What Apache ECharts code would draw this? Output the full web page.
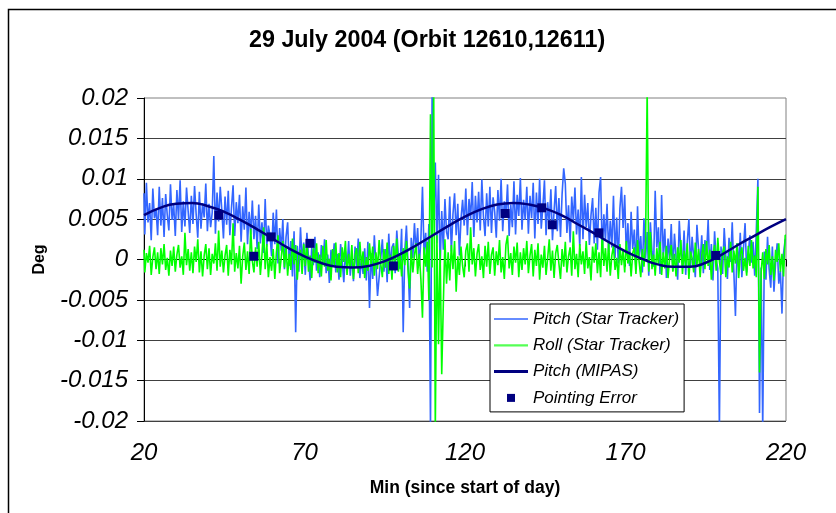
<!DOCTYPE html>
<html>
<head>
<meta charset="utf-8">
<script src="https://cdn.jsdelivr.net/npm/echarts@6/dist/echarts.min.js"></script>
<style>
  html, body { margin: 0; padding: 0; background: #fff; }
  #chart { width: 836px; height: 513px; }
</style>
</head>
<body>
<div id="chart"></div>
<script>
const xTicks = [20, 70, 120, 170, 220]
const starStart = 20   // min, first star tracker sample
const starStep = 0.5   // min between star tracker samples
const mipasStart = 20
const mipasStep = 5

// Pitch (Star Tracker), one row = 5 min
const pitchStarMdeg = [
  8.2, 3.1, 9.5, 4.6, 7.0, 2.4, 8.8, 5.1, 6.3, 3.0,
  9.0, 4.2, 7.6, 2.8, 8.1, 5.5, 3.6, 9.3, 4.9, 6.8,
  2.9, 8.6, 5.0, 9.8, 3.4, 7.2, 4.1, 8.9, 6.0, 3.3,
  7.9, 4.4, 9.1, 5.6, 2.7, 8.4, 3.8, 7.0, 5.2, 9.4,
  3.5, 6.9, 4.0, 5.8, 12.8, 3.2, 8.3, 4.7, 9.0, 6.1,
  2.6, 7.8, 4.3, 8.5, 3.0, 6.4, 9.2, 2.9, 7.1, 4.5,
  8.0, 2.2, 6.6, 3.7, 8.9, 1.9, 5.9, 3.1, 7.3, 2.5,
  5.4, 1.3, 6.8, 2.0, 4.6, 0.8, 7.5, 1.6, 4.2, 3.0,
  0.4, 5.8, 1.9, 6.2, -0.5, 3.9, 1.1, 5.0, -1.2, 2.8,
  4.6, -0.8, 2.3, -2.1, 3.5, -9.0, 1.7, -1.5, 4.0, -0.3,
  2.1, -1.9, 3.3, 0.2, -2.6, 1.5, -0.7, 2.8, -1.4, 0.9,
  -2.2, 1.8, -0.4, 2.5, -1.7, 0.6, -2.9, 1.2, -0.9, 2.0,
  -1.6, 0.7, -2.5, 1.9, -0.2, -2.8, 1.0, -1.3, 2.3, -2.0,
  0.5, -2.7, 1.6, -1.0, 2.6, -2.3, 0.3, -1.8, 1.4, -2.6,
  2.2, -6.0, 0.8, -2.4, 3.0, -0.6, -4.5, -2.2, 0.1, 2.5,
  -1.5, 1.3, -2.8, 3.2, -0.9, 1.5, 2.0, -1.7, 3.6, 0.4,
  -1.2, 3.8, -9.0, 1.1, 4.2, -0.5, -6.0, 2.7, 0.2, 4.5,
  1.0, 3.9, -0.8, 2.4, 9.0, 0.6, 3.3, -1.5, 4.4, -21,
  21, 5.0, 12.0, 2.0, 10.5, -1.0, 6.0, 1.2, 7.5, 3.4,
  2.5, 7.8, 1.0, 5.6, 8.2, 3.0, 6.9, 0.5, 5.0, 7.4,
  4.2, 8.8, 3.0, 7.5, 5.0, 9.6, 2.8, 7.9, 4.6, 8.4,
  3.6, 9.9, 5.3, 2.9, 8.2, 4.1, 9.0, 3.3, 7.7, 5.9,
  2.7, 8.6, 4.8, 10.0, 3.5, 7.2, 5.5, 9.3, 2.9, 6.8,
  4.0, 9.7, 3.1, 8.0, 5.4, 10.1, 3.7, 7.4, 4.9, 9.0,
  3.2, 7.9, 5.1, 9.5, 2.6, 8.3, 4.4, 10.0, 3.8, 6.5,
  9.8, 3.0, 7.1, 4.5, 8.7, 2.4, 6.0, 9.1, 3.5, 7.6,
  2.8, 8.1, 11.3, 9.4, 3.3, 6.7, 2.1, 7.8, 4.7, 8.9,
  3.1, 6.2, 1.6, 10.2, 2.5, 8.0, 4.0, 7.0, 1.8, 5.5,
  7.6, 2.0, 6.4, 1.2, 8.3, 10.2, 0.8, 5.6, 2.4, 6.9,
  0.9, 4.8, 1.5, 7.9, 0.2, 5.2, -0.5, 6.3, 9.0, 3.9,
  8.0, 0.6, 4.5, -0.8, 5.9, 1.3, 3.7, -1.2, 6.6, 0.4,
  2.9, -1.6, 5.1, 0.1, 3.4, -2.0, 4.6, 1.0, -0.9, 8.5,
  1.5, 4.0, -1.8, 8.0, 0.5, 3.8, -2.3, 2.6, 0.0, 4.4,
  -1.4, 3.2, 0.3, -2.5, 4.8, 1.1, -0.7, 3.6, -1.9, 2.2,
  5.0, -1.0, 2.8, 0.2, -2.2, 4.3, 1.4, -0.6, 3.0, -1.7,
  2.4, 0.7, 4.9, -1.3, 1.9, -2.6, 3.5, 0.0, -1.1, -21,
  1.6, -1.8, 3.9, 0.4, -2.4, 2.7, -0.3, 4.6, -1.5, -7.0,
  2.0, -0.9, 3.3, -2.2, 1.4, 4.5, -1.6, 0.8, 3.0, -0.4,
  2.2, -2.0, 3.6, 10.0, -19, -1.0, -21, 1.0, -2.5, 2.8,
  -1.2, -3.5, 1.6, -4.0, -0.5, 2.0, -3.0, -1.4, -6.7, 0.8,
  2.5
]

// Roll (Star Tracker), one row = 5 min
const rollStarMdeg = [
  1.2, -1.6, 0.8, -0.4, 1.7, -1.9, 0.3, 1.5, -1.2, 0.9,
  -1.8, 1.4, -0.6, 1.9, -1.3, 0.2, -2.0, 1.1, -0.8, 1.6,
  -1.5, 0.6, 1.8, -1.0, 0.4, -1.9, 3.3, -0.7, 1.3, -1.4,
  0.9, -1.7, 1.6, -0.3, 2.5, -1.6, 1.0, -2.1, 0.5, 1.9,
  -1.2, 1.4, -1.9, 0.7, -0.5, 2.0, -1.4, 3.6, -0.9, 1.1,
  -1.6, 0.5, 1.8, -2.0, 1.2, -0.6, 4.5, -1.5, 0.8, -1.1,
  1.7, -3.0, 0.4, 2.1, -1.3, 1.0, -1.8, 3.8, -0.2, -1.6,
  1.5, -0.9, 2.2, -1.9, 0.6, 4.0, -1.2, 1.9, -2.2, 0.3,
  -1.4, 1.3, -2.4, 0.9, 3.0, -1.7, 0.2, 2.3, -1.0, 1.6,
  -2.0, 0.7, -1.3, 2.6, -0.6, 1.8, -2.5, 0.4, 1.2, -1.8,
  1.9, -0.8, 2.2, -1.5, 0.5, -2.3, 1.4, -0.4, 2.0, -1.7,
  0.6, -2.1, 1.7, -0.9, 2.4, -1.4, 0.1, -2.6, 1.3, -0.7,
  2.1, -1.6, 0.8, -2.2, 1.5, -0.3, 2.3, -1.9, 0.7, -1.1,
  1.8, -2.4, 0.5, 1.4, -1.7, 2.2, -0.8, 1.0, -2.3, 0.3,
  -1.4, 2.0, -0.6, 1.6, -2.0, 0.9, -1.2, 2.4, -0.5, -2.2,
  1.3, -1.0, 2.1, -1.8, 0.6, -2.5, 1.7, -0.4, 2.6, -1.5,
  0.8, -2.1, 1.4, -0.7, 2.3, -1.3, -3.6, 1.2, -1.6, 0.5,
  2.0, -1.8, 0.7, -2.4, -7.2, 1.5, -0.9, 2.2, -5.0, 18.0,
  -1.0, 21, -21, 3.0, -10.5, 1.2, -14.2, -5.5, 2.5, -3.0,
  0.9, -2.6, 1.8, -1.2, 2.3, -4.0, 0.4, -1.9, 1.6, -0.8,
  -2.2, 1.1, 2.0, -1.5, 4.0, -0.6, 1.4, -2.1, 0.7, 1.9,
  -1.3, 0.4, -2.3, 1.7, -0.9, 2.2, -1.8, 0.6, 1.5, -2.0,
  1.0, -0.7, 2.4, -1.6, 0.3, -2.4, 1.8, 3.0, -1.1, 0.8,
  -1.9, 1.6, -0.4, 2.1, -2.2, 0.9, -1.3, 1.4, -0.6, 2.3,
  -1.7, 0.5, 1.9, -2.1, 1.2, -0.8, 2.0, -2.5, 0.6, -1.0,
  1.7, -1.9, 0.2, 2.5, -1.4, 1.1, -2.3, 0.8, 1.8, -0.5,
  -2.4, 1.3, -0.9, 2.2, -1.6, 0.4, 1.5, -2.0, 3.5, -1.2,
  0.7, -2.2, 1.9, -0.6, 1.0, -1.8, 2.3, -1.1, 0.3, -2.6,
  1.6, -0.4, 2.0, -1.7, 0.9, -2.2, 3.2, -0.8, 1.4, -1.5,
  2.1, -2.0, 0.5, 1.7, -1.3, 0.2, -2.4, 1.9, -0.7, 1.2,
  -1.6, 2.3, -0.5, 1.0, -2.1, 0.8, 1.5, -1.8, 2.4, -0.3,
  -2.2, 1.3, -0.9, 2.0, 21, -1.5, 3.4, -1.2, 0.6, -2.0,
  1.4, -0.6, 2.2, -1.9, 0.9, -1.1, 1.7, -2.3, 0.3, 1.8,
  -1.5, 0.7, -2.1, 1.5, -0.4, 2.4, -1.8, 1.1, -0.9, 2.0,
  -2.4, 1.0, 0.2, -1.6, 2.1, -0.7, 1.3, -2.2, 0.5, 1.9,
  -1.2, 2.3, -0.8, 1.2, -2.5, 0.6, 1.8, -1.4, 2.7, -0.2,
  -1.9, 0.9, 1.6, -2.2, 0.4, -1.0, 2.2, -1.6, 1.1, -0.5,
  2.0, -2.3, 0.6, 1.5, -1.4, 0.2, -2.0, 1.7, -0.8, 2.4,
  -1.1, 0.5, -2.2, 9.0, -14.0, -1.6, 0.9, -2.4, 1.3, -0.6,
  1.8, -1.9, 0.4, -2.6, 1.2, -0.3, 2.0, -1.5, 0.7, -2.1,
  3.0
]

// Pitch (MIPAS), every 5 min from 20 to 220
const pitchMipasMdeg = [
  5.5, 6.4, 6.9, 7.0, 6.6, 5.9, 4.9, 3.8, 2.6, 1.4,
  0.4, -0.4, -0.9, -1.0, -0.8, -0.2, 0.7, 1.8, 3.0, 4.2,
  5.3, 6.2, 6.8, 7.0, 6.8, 6.3, 5.5, 4.4, 3.3, 2.1,
  1.0, 0.1, -0.6, -0.9, -0.9, -0.4, 0.6, 1.8, 2.9, 4.0,
  5.0
]

// Pointing Error
const errorMin = [43.3, 54.2, 59.6, 71.7, 97.7, 132.5, 143.9, 147.2, 161.7, 198.1]
const errorMdeg = [5.5, 0.4, 2.8, 2.0, -0.8, 5.7, 6.4, 4.3, 3.3, 0.5]

const toDeg = (v) => v / 1000
const pitchStar = pitchStarMdeg.map((v, i) => [starStart + i * starStep, toDeg(v)])
const rollStar = rollStarMdeg.map((v, i) => [starStart + i * starStep, toDeg(v)])
const pitchMipas = pitchMipasMdeg.map((v, i) => [mipasStart + i * mipasStep, toDeg(v)])
const pointingError = errorMin.map((t, i) => [t, toDeg(errorMdeg[i])])

const FONT = '"Liberation Sans", Arial, sans-serif'
// legend icons: a horizontal bar of given thickness inside a 34x8 box
const barIcon = (h) => `path://M0 0M34 8M0 ${4 - h / 2}L34 ${4 - h / 2}L34 ${4 + h / 2}L0 ${4 + h / 2}Z`

const chart = echarts.init(document.getElementById('chart'))

const option = {
  animation: false,
  backgroundColor: '#fff',
  textStyle: { fontFamily: FONT },
  title: {
    text: '29 July 2004 (Orbit 12610,12611)',
    left: 249,
    top: 29,
    padding: 0,
    textStyle: { fontFamily: FONT, fontSize: 23.3, fontWeight: 'bold', color: '#000' },
  },
  graphic: [
    {
      type: 'rect',
      shape: { x: 8.5, y: 9.5, width: 840, height: 520 },
      style: { fill: 'none', stroke: '#000', lineWidth: 1.5 },
      silent: true,
    },
  ],
  grid: {
    left: 144,
    right: 50,
    top: 98,
    bottom: 92,
    show: true,
    borderColor: '#808080',
    borderWidth: 1,
  },
  legend: {
    orient: 'vertical',
    left: 490,
    top: 304,
    z: 10,
    padding: [6, 5, 5, 4],
    itemWidth: 34,
    itemHeight: 8,
    itemGap: 8.3,
    backgroundColor: '#fff',
    borderColor: '#000',
    borderWidth: 1,
    textStyle: { fontFamily: FONT, fontSize: 17, fontStyle: 'italic', color: '#000', lineHeight: 18 },
    data: [
      { name: 'Pitch (Star Tracker)', icon: barIcon(1.3), itemStyle: { color: '#3366FF', borderWidth: 0 } },
      { name: 'Roll (Star Tracker)', icon: barIcon(2.2), itemStyle: { color: '#55FF55', borderWidth: 0 } },
      { name: 'Pitch (MIPAS)', icon: barIcon(3), itemStyle: { color: '#000080', borderWidth: 0 } },
      { name: 'Pointing Error', icon: 'path://M0 0M34 8M13 0L21 0L21 8L13 8Z', itemStyle: { color: '#000080', borderWidth: 0 } },
    ],
  },
  xAxis: {
    type: 'value',
    min: 20,
    max: 220,
    name: 'Min (since start of day)',
    nameLocation: 'middle',
    nameGap: 58,
    nameTextStyle: { fontFamily: FONT, fontSize: 17.5, fontWeight: 'bold', color: '#000' },
    axisLine: { show: true, lineStyle: { color: '#000', width: 1 } },
    axisTick: { show: true, length: 7, customValues: xTicks, lineStyle: { color: '#000' } },
    axisLabel: {
      customValues: xTicks,
      margin: 20,
      fontFamily: FONT,
      fontSize: 24,
      fontStyle: 'italic',
      color: '#000',
    },
    splitLine: { show: false },
  },
  yAxis: {
    type: 'value',
    min: -0.02,
    max: 0.02,
    interval: 0.005,
    name: 'Deg',
    nameLocation: 'middle',
    nameGap: 96,
    nameRotate: 90,
    nameTextStyle: { fontFamily: FONT, fontSize: 16, fontWeight: 'bold', color: '#000' },
    axisLine: { show: true, lineStyle: { color: '#000', width: 1 } },
    axisTick: { show: true, length: 7, lineStyle: { color: '#000' } },
    axisLabel: {
      margin: 16,
      fontFamily: FONT,
      fontSize: 24,
      fontStyle: 'italic',
      color: '#000',
    },
    splitLine: { show: true, showMaxLine: false, lineStyle: { color: '#404040', width: 1 } },
  },
  series: [
    {
      name: 'Pitch (Star Tracker)',
      type: 'line',
      data: pitchStar,
      symbol: 'none',
      step: 'middle',
      lineStyle: { color: '#3366FF', width: 1.6 },
      itemStyle: { color: '#3366FF' },
      clip: true,
      z: 2,
    },
    {
      name: 'Roll (Star Tracker)',
      type: 'line',
      data: rollStar,
      symbol: 'none',
      step: 'middle',
      lineStyle: { color: '#00FF00', width: 1.6 },
      itemStyle: { color: '#00FF00' },
      clip: true,
      z: 3,
    },
    {
      name: 'Pitch (MIPAS)',
      type: 'line',
      data: pitchMipas,
      symbol: 'none',
      smooth: true,
      lineStyle: { color: '#000080', width: 2.5 },
      itemStyle: { color: '#000080' },
      z: 4,
    },
    {
      name: 'Pointing Error',
      type: 'scatter',
      data: pointingError,
      symbol: 'rect',
      symbolSize: 9,
      itemStyle: { color: '#000080', opacity: 1 },
      z: 5,
    },
  ],
}

chart.setOption(option)
</script>
</body>
</html>
